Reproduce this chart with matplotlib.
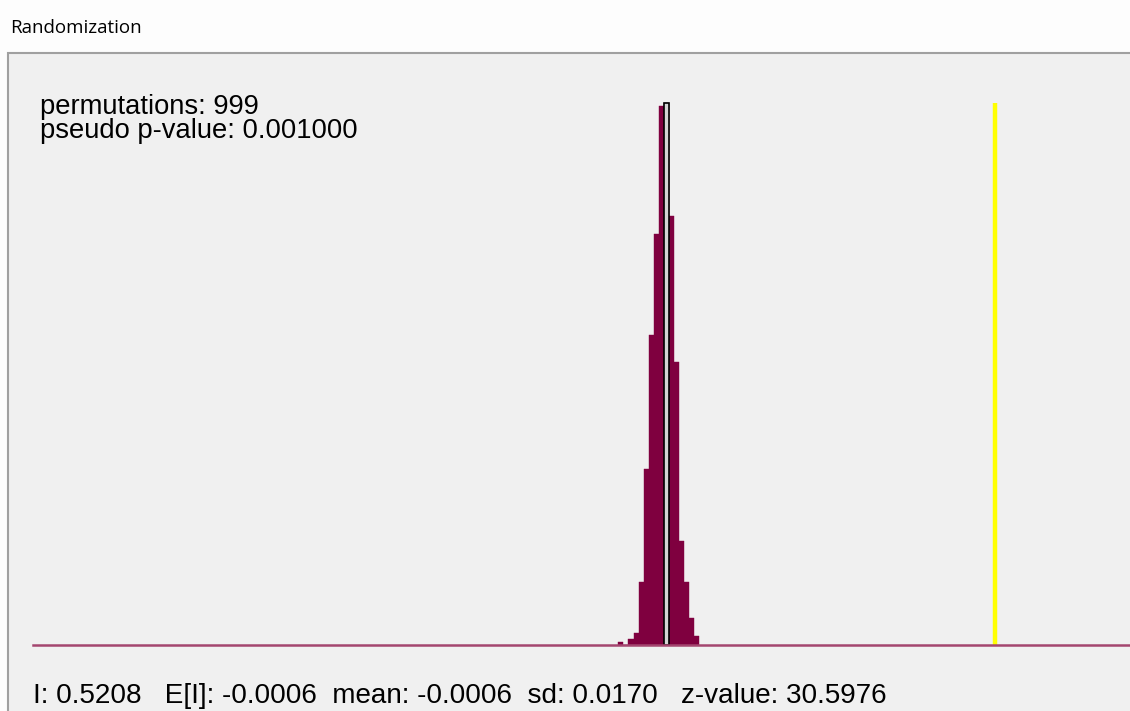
import numpy as np
import matplotlib
matplotlib.use("Agg")
import matplotlib.pyplot as plt
from matplotlib.patches import Rectangle

# permutation histogram (999 permutations)
counts = [1, 0, 2, 4, 21, 59, 104, 138, 181, 182, 144, 95, 35, 21, 9, 3]
bin_lo, bin_hi = -0.0780, 0.0508
highlight_bin = 9

observed_I = 0.5208
expected_I = -0.0006
perm_mean = -0.0006
perm_sd = 0.0170
z_value = 30.5976
n_perm = 999
p_value = 0.001

W, H = 1130, 711
MAROON = "#7f003f"


def fx(px):
    return px / W


def fy(py):
    return 1 - py / H


fig = plt.figure(figsize=(W / 100, H / 100), dpi=100)
fig.patch.set_facecolor("#fdfdfd")

# window panel
fig.add_artist(Rectangle((fx(8), fy(H + 20)), fx(W + 20), fy(53) - fy(H + 20),
                         transform=fig.transFigure, facecolor="#f0f0f0",
                         edgecolor="#a0a0a0", linewidth=1.5, zorder=-1))
fig.text(fx(10), fy(28), "Randomization", fontsize=13.5, family="Open Sans",
         va="center", ha="left", color="black")

ax = fig.add_axes([fx(33), fy(645), fx(W - 33), fy(100) - fy(645)])
ax.set_zorder(2)
ax.axis("off")
ax.set_xlim(-1.0086, 0.7355)
ax.set_ylim(0, 183.0)

edges = np.linspace(bin_lo, bin_hi, len(counts) + 1)
width = edges[1] - edges[0]
ax.bar(edges[:-1], counts, width=width, align="edge", color=MAROON,
       edgecolor=MAROON, linewidth=0.3, zorder=2)
# highlighted bin drawn as an outlined bar
ax.bar(edges[highlight_bin], counts[highlight_bin], width=width, align="edge",
       color="#d4d4d4", edgecolor="black", linewidth=1.2, zorder=3)

ax.axhline(0, color="#a4466f", linewidth=1.8, clip_on=False, zorder=4)
ax.vlines(observed_I, 0, max(counts), color="#ffff00", linewidth=3.2, zorder=3)

font = ["Liberation Sans", "DejaVu Sans"]
fig.text(fx(40), fy(114), f"permutations: {n_perm}", family=font,
         fontsize=19.7, va="baseline", ha="left", zorder=3)
fig.text(fx(40), fy(137.5), f"pseudo p-value: {p_value:.6f}", family=font,
         fontsize=19.7, va="baseline", ha="left", zorder=3)

summary = (f"I: {observed_I:.4f}   E[I]: {expected_I:.4f}  mean: {perm_mean:.4f}"
           f"  sd: {perm_sd:.4f}   z-value: {z_value:.4f}")
fig.text(fx(33), fy(703), summary, family=font, fontsize=20.1,
         va="baseline", ha="left", zorder=3)

fig.savefig("out.png", dpi=100, facecolor=fig.get_facecolor())
